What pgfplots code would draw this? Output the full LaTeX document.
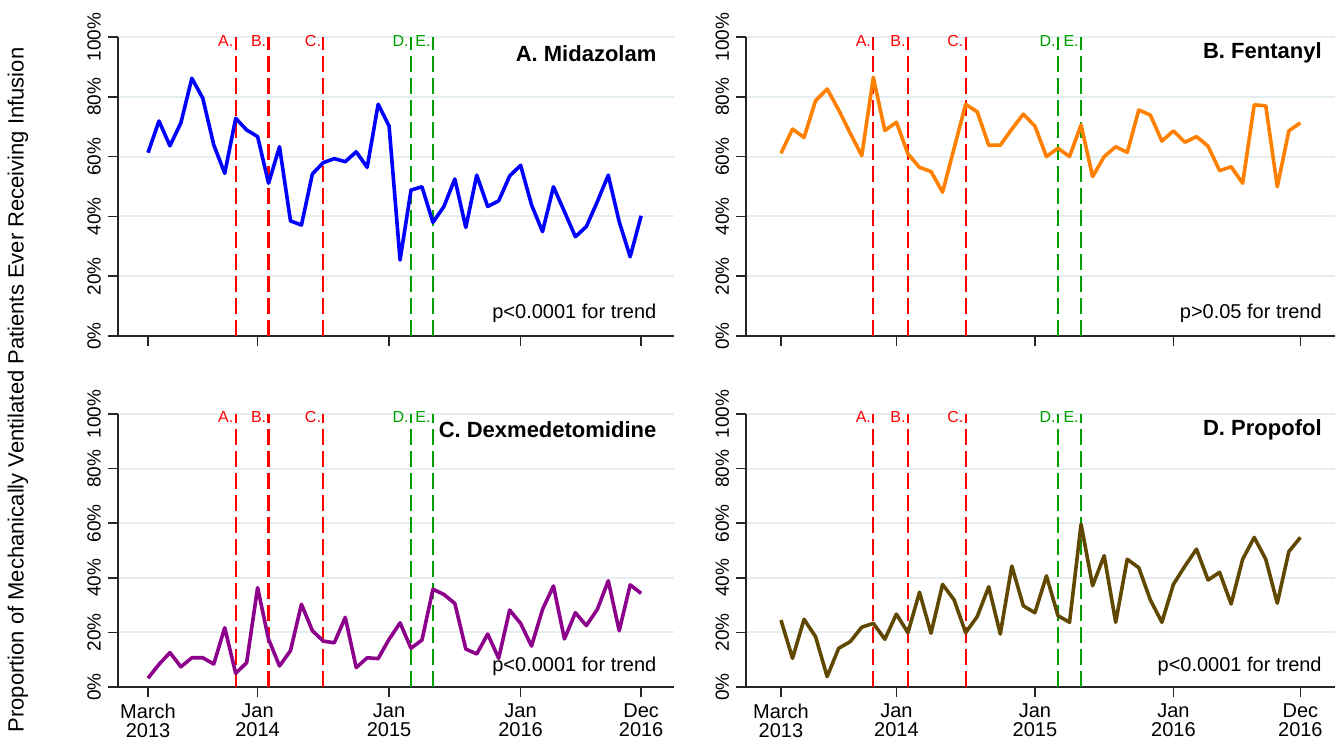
\documentclass[border=0pt]{standalone}
\usepackage{fontspec}
\setmainfont{Liberation Sans}
\usepackage{pgfplots}
\pgfplotsset{compat=1.18}
\definecolor{gridc}{RGB}{228,238,241}
\definecolor{cA}{RGB}{0,0,255}
\definecolor{cB}{RGB}{255,128,0}
\definecolor{cC}{RGB}{140,0,140}
\definecolor{cD}{RGB}{96,72,0}
\definecolor{vred}{RGB}{255,0,0}
\definecolor{vgreen}{RGB}{0,160,0}
\tikzset{
  dline/.style={line width=1.1pt, dash pattern=on 8pt off 3pt},
  dlab/.style={anchor=east, font=\fontsize{8}{9}\selectfont, inner sep=1pt},
  ttl/.style={anchor=east, font=\bfseries\fontsize{11}{13}\selectfont, inner sep=0pt},
  ptxt/.style={anchor=east, font=\fontsize{10}{12}\selectfont, inner sep=0pt},
  series/.style={line width=1.8pt, line join=round},
}
\pgfplotsset{
  panel/.style={
    scale only axis, clip=false,
    xmax=48, ymin=0, ymax=100,
    axis x line*=bottom, axis y line*=left,
    axis line style={line width=0.8pt, black!85},
    xtick={0,10,22,34,45},
    ytick={0,20,40,60,80,100},
    yticklabels={0\%,20\%,40\%,60\%,80\%,100\%},
    ymajorgrids, grid style={gridc, line width=1pt},
    tick align=outside, major tick length=5pt,
    tick style={line width=0.8pt, black!85},
    yticklabel style={rotate=90, anchor=south, font=\fontsize{9.5}{10}\selectfont},
    xticklabel style={align=center, font=\fontsize{10}{9.5}\selectfont},
  },
  toppanel/.style={panel, height=149.5pt, xticklabels={}},
  botpanel/.style={panel, height=136.5pt, xticklabels={{March\\2013},{Jan\\2014},{Jan\\2015},{Jan\\2016},{Dec\\2016}}},
  leftp/.style={width=278pt, xmin=-2.74},
  rightp/.style={width=294.5pt, xmin=-3.03},
}
\newcommand{\vlines}{%
  \addplot[vred, dline, mark=none] coordinates {(8,0)(8,100)};
  \addplot[vred, dline, mark=none] coordinates {(11,0)(11,100)};
  \addplot[vred, dline, mark=none] coordinates {(16,0)(16,100)};
  \addplot[vgreen, dline, mark=none] coordinates {(24,0)(24,100)};
  \addplot[vgreen, dline, mark=none] coordinates {(26,0)(26,100)};
  \node[dlab, text=vred] at (axis cs:8,98.8) {A.};
  \node[dlab, text=vred] at (axis cs:11,98.8) {B.};
  \node[dlab, text=vred] at (axis cs:16,98.8) {C.};
  \node[dlab, text=vgreen] at (axis cs:24,98.8) {D.};
  \node[dlab, text=vgreen] at (axis cs:26,98.8) {E.};
}
\begin{document}
\begin{tikzpicture}
\path (0,0) rectangle (670.5pt,370pt);
\node[rotate=90, font=\fontsize{11}{13}\selectfont] at (9pt,175pt) {Proportion of Mechanically Ventilated Patients Ever Receiving Infusion};

% Panel A
\begin{axis}[toppanel, leftp, at={(59pt,202pt)}, anchor=south west]
\vlines
\addplot[series, cA, mark=none] coordinates {(0,61.3)(1,71.9)(2,63.6)(3,71.3)(4,86.2)(5,79.5)(6,63.9)(7,54.4)(8,72.8)(9,68.9)(10,66.7)(11,51.1)(12,63.3)(13,38.5)(14,37.1)(15,54.2)(16,58.0)(17,59.3)(18,58.3)(19,61.6)(20,56.4)(21,77.5)(22,70.2)(23,25.4)(24,48.8)(25,49.9)(26,38.0)(27,43.3)(28,52.5)(29,36.3)(30,53.8)(31,43.3)(32,45.2)(33,53.5)(34,57.1)(35,43.8)(36,34.9)(37,49.9)(38,41.6)(39,33.2)(40,36.6)(41,44.9)(42,53.8)(43,38.2)(44,26.5)(45,40.2)};
\node[ttl] at (rel axis cs:0.969,0.946) {A. Midazolam};
\node[ptxt] at (rel axis cs:0.969,0.077) {p<0.0001 for trend};
\end{axis}

% Panel B
\begin{axis}[toppanel, rightp, at={(373pt,202pt)}, anchor=south west]
\vlines
\addplot[series, cB, mark=none] coordinates {(0,61.1)(1,69.2)(2,66.4)(3,78.7)(4,82.6)(5,75.6)(6,67.8)(7,60.3)(8,86.5)(9,68.7)(10,71.5)(11,60.9)(12,56.4)(13,55.0)(14,48.1)(15,62.8)(16,77.5)(17,75.0)(18,63.8)(19,63.8)(20,69.2)(21,74.2)(22,70.2)(23,60.0)(24,62.8)(25,60.0)(26,70.6)(27,53.3)(28,60.0)(29,63.3)(30,61.4)(31,75.6)(32,73.9)(33,65.2)(34,68.6)(35,64.8)(36,66.7)(37,63.5)(38,55.3)(39,56.6)(40,51.1)(41,77.3)(42,77.0)(43,49.9)(44,68.6)(45,71.3)};
\node[ttl] at (rel axis cs:0.978,0.946) {B. Fentanyl};
\node[ptxt] at (rel axis cs:0.978,0.077) {p>0.05 for trend};
\end{axis}

% Panel C
\begin{axis}[botpanel, leftp, at={(59pt,26.5pt)}, anchor=south west]
\vlines
\addplot[series, cC, mark=none] coordinates {(0,3.2)(1,8.3)(2,12.6)(3,7.4)(4,10.7)(5,10.7)(6,8.4)(7,21.7)(8,5.0)(9,8.9)(10,36.4)(11,17.5)(12,7.7)(13,13.3)(14,30.3)(15,20.6)(16,16.8)(17,16.2)(18,25.5)(19,7.1)(20,10.7)(21,10.4)(22,17.5)(23,23.5)(24,14.2)(25,17.2)(26,35.8)(27,33.9)(28,30.6)(29,13.9)(30,12.1)(31,19.4)(32,10.5)(33,28.2)(34,23.3)(35,15.0)(36,28.4)(37,37.0)(38,17.6)(39,27.2)(40,22.5)(41,28.4)(42,38.9)(43,20.6)(44,37.4)(45,34.3)};
\node[ttl] at (rel axis cs:0.969,0.941) {C. Dexmedetomidine};
\node[ptxt] at (rel axis cs:0.969,0.077) {p<0.0001 for trend};
\end{axis}

% Panel D
\begin{axis}[botpanel, rightp, at={(373pt,26.5pt)}, anchor=south west]
\vlines
\addplot[series, cD, mark=none] coordinates {(0,24.5)(1,10.5)(2,24.8)(3,18.4)(4,3.8)(5,14.2)(6,16.6)(7,21.9)(8,23.3)(9,17.5)(10,26.7)(11,19.9)(12,34.7)(13,19.7)(14,37.6)(15,31.9)(16,19.9)(17,25.8)(18,36.7)(19,19.4)(20,44.3)(21,29.7)(22,27.2)(23,40.7)(24,26.1)(25,23.7)(26,59.6)(27,37.1)(28,48.1)(29,23.7)(30,46.8)(31,43.7)(32,31.9)(33,23.7)(34,37.6)(35,44.3)(36,50.5)(37,39.2)(38,42.0)(39,30.4)(40,46.8)(41,54.8)(42,46.8)(43,30.7)(44,49.6)(45,54.8)};
\node[ttl] at (rel axis cs:0.978,0.941) {D. Propofol};
\node[ptxt] at (rel axis cs:0.978,0.077) {p<0.0001 for trend};
\end{axis}
\end{tikzpicture}
\end{document}
